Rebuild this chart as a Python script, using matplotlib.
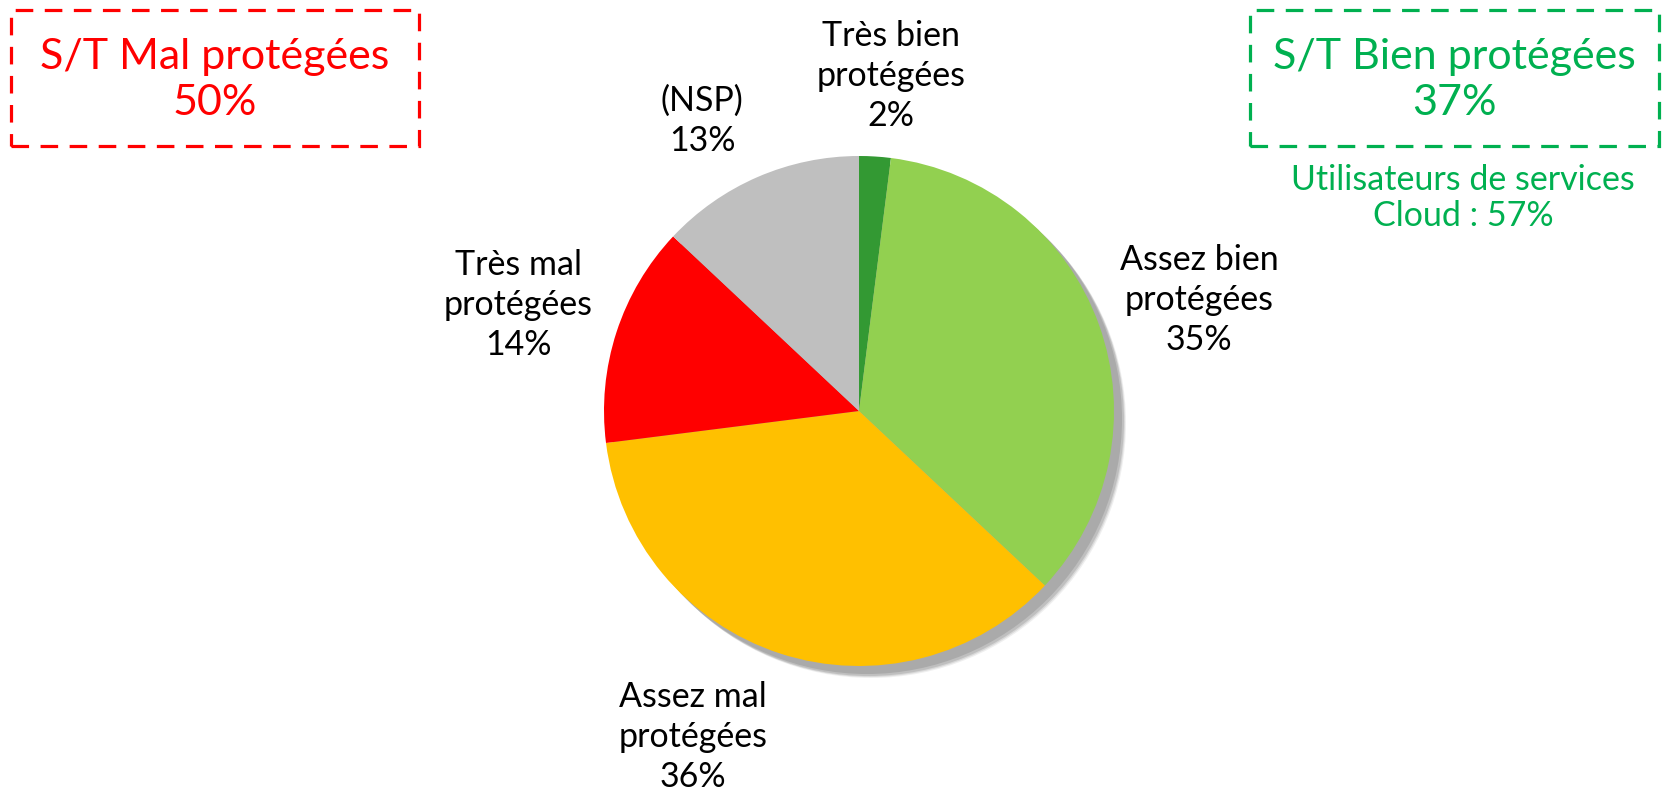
import matplotlib.pyplot as plt
from matplotlib.patches import Circle, Rectangle

# data
labels = ["Très bien\nprotégées\n2%", "Assez bien\nprotégées\n35%", "Assez mal\nprotégées\n36%",
          "Très mal\nprotégées\n14%", "(NSP)\n13%"]
values = [2, 35, 36, 14, 13]
colors = ["#339933", "#92D050", "#FFC000", "#FF0000", "#BFBFBF"]
# label anchor positions in pixels (x, y from top)
label_pos = [(891, 76), (1199, 300), (693, 737), (518, 305), (702, 121)]

mal_title = "S/T Mal protégées\n50%"
bien_title = "S/T Bien protégées\n37%"
cloud_note = "Utilisateurs de services\nCloud : 57%"

W, H = 1667, 796
plt.rcParams['font.family'] = ['Lato', 'DejaVu Sans']

fig = plt.figure(figsize=(W / 100, H / 100), dpi=100)
ax = fig.add_axes([0, 0, 1, 1])

cx, cy, r = 859, H - 411, 255

# soft shadow: solid core plus fading outer rings
for k, a in [(13, 0.15), (12, 0.25), (11, 0.4)]:
    ax.add_patch(Circle((cx + k - 1, cy - k + 1), r, color="#9a9a9a", alpha=a, lw=0, zorder=1))
ax.add_patch(Circle((cx + 8, cy - 8), r, color="#aaaaaa", lw=0, zorder=1.5))

wedges, _ = ax.pie(values, colors=colors, startangle=90, counterclock=False,
                   center=(cx, cy), radius=r, frame=True,
                   wedgeprops=dict(linewidth=0, zorder=2))
ax.set_xlim(0, W)
ax.set_ylim(0, H)
ax.set_aspect("equal")
ax.axis("off")

for lab, (x, y) in zip(labels, label_pos):
    ax.text(x, H - y, lab, ha="center", va="center", fontsize=24.5, linespacing=1.3, color="black")

# dashed boxes
dash = (0, (5.5, 3.6))
ax.add_patch(Rectangle((11, H - 146), 408, 136, fill=False, ec="#FF0000", lw=2.3,
                       ls=dash, zorder=3))
ax.text(215, H - 80, mal_title, ha="center", va="center", fontsize=31, color="#FF0000",
        linespacing=1.25)

ax.add_patch(Rectangle((1250, H - 146), 409, 136, fill=False, ec="#00B050", lw=2.3,
                       ls=dash, zorder=3))
ax.text(1454, H - 80, bien_title, ha="center", va="center", fontsize=31, color="#00B050",
        linespacing=1.25)
ax.text(1463, H - 198, cloud_note, ha="center", va="center", fontsize=24.5, color="#00B050",
        linespacing=1.18)

fig.savefig("out.png", dpi=100)
